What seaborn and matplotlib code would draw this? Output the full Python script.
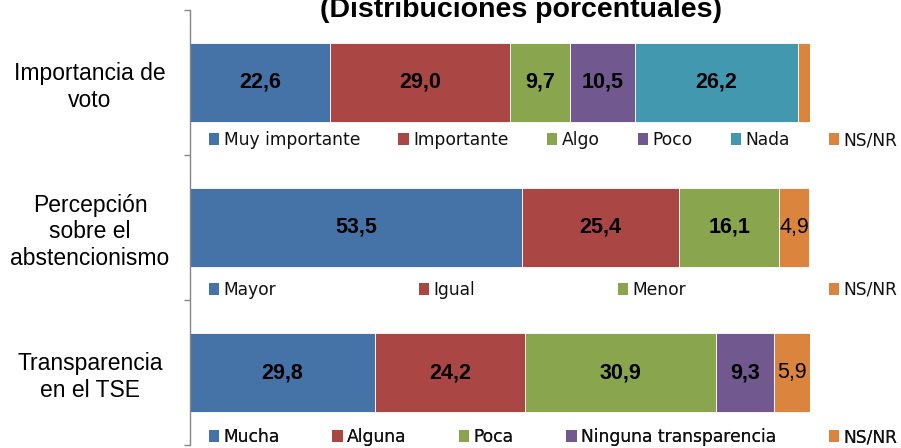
import matplotlib.pyplot as plt
import matplotlib.transforms as mtransforms
from matplotlib.patches import Patch
import seaborn as sns
import pandas as pd

# Data
rows = ["Importancia de\nvoto", "Percepción\nsobre el\nabstencionismo", "Transparencia\nen el TSE"]

voto_labels = ["Muy importante", "Importante", "Algo", "Poco", "Nada", "NS/NR"]
voto_values = [22.6, 29.0, 9.7, 10.5, 26.2, 2.0]

abst_labels = ["Mayor", "Igual", "Menor", "NS/NR"]
abst_values = [53.5, 25.4, 16.1, 4.9]

tse_labels = ["Mucha", "Alguna", "Poca", "Ninguna transparencia", "NS/NR"]
tse_values = [29.8, 24.2, 30.9, 9.3, 5.9]

title = "(Distribuciones porcentuales)"

# Excel 2007 style colours
BLUE, RED, GREEN, PURPLE, TEAL, ORANGE = "#4572A7", "#AA4643", "#89A54E", "#71588F", "#4198AF", "#DB843D"
row_colors = [
    [BLUE, RED, GREEN, PURPLE, TEAL, ORANGE],
    [BLUE, RED, GREEN, ORANGE],
    [BLUE, RED, GREEN, PURPLE, ORANGE],
]

# long table of segments
recs = []
for i, (labs, vals) in enumerate([(voto_labels, voto_values), (abst_labels, abst_values), (tse_labels, tse_values)]):
    left = 0.0
    for j, (lab, v) in enumerate(zip(labs, vals)):
        recs.append({"row": i, "label": lab, "value": v, "left": left, "color": row_colors[i][j],
                     "last": j == len(vals) - 1})
        left += v
df = pd.DataFrame(recs)

sns.set_theme(style="white")
plt.rcParams["font.family"] = ["Liberation Sans", "DejaVu Sans"]
plt.rcParams["text.color"] = "black"
plt.rcParams["ytick.labelcolor"] = "black"

fig = plt.figure(figsize=(9.01, 4.48), dpi=100)
ax = fig.add_axes([190 / 901, 3 / 448, 620 / 901, 435 / 448])

ax.barh(df["row"] + 0.5, df["value"], left=df["left"], height=0.55,
        color=df["color"], edgecolor="white", linewidth=0.6)

# value labels (the tiny NS/NR slice in the first bar has none)
for _, r in df.iterrows():
    if r["value"] < 3:
        continue
    ax.text(r["left"] + r["value"] / 2, r["row"] + 0.5, f"{r['value']:.1f}".replace(".", ","),
            ha="center", va="center", fontsize=15.5, color="black",
            fontweight="normal" if r["last"] else "bold")

ax.set_xlim(0, 100)
ax.set_ylim(3, 0)
ax.set_xticks([])
ax.set_yticks([0, 1, 2, 3])
ax.set_yticklabels([])
ax.set_yticks([0.5, 1.5, 2.5], minor=True)
ax.set_yticklabels(rows, minor=True, fontsize=16.5, ha="center", linespacing=1.2, color="black")
ax.tick_params(axis="y", which="major", left=True, length=4.5, width=1, color="#868686")
ax.tick_params(axis="y", which="minor", left=True, length=0, pad=72)
for s in ["top", "right", "bottom"]:
    ax.spines[s].set_visible(False)
ax.spines["left"].set_color("#868686")
ax.spines["left"].set_linewidth(1)

# one legend under each bar
blend = mtransforms.blended_transform_factory(fig.transFigure, ax.transData)
legend_y = [0.897, 1.93, 2.945]
for i, labs in enumerate([voto_labels, abst_labels, tse_labels]):
    handles = [Patch(facecolor=c, edgecolor="none") for c in row_colors[i]]
    leg = ax.legend(handles, labs, loc="center", bbox_to_anchor=(209 / 901, legend_y[i], 688 / 901, 0),
                    bbox_transform=blend, mode="expand", ncol=len(labs), frameon=False,
                    borderpad=0, borderaxespad=0, handlelength=0.6, handleheight=0.75,
                    handletextpad=0.25, labelcolor="#111111",
                    prop={"family": "DejaVu Sans", "size": 12.3})
    ax.add_artist(leg)

fig.text(521 / 901, 1 - 17 / 448, title, ha="center", va="baseline", fontsize=20.5,
         fontweight="bold", color="black")

fig.savefig("out.png", dpi=100)
